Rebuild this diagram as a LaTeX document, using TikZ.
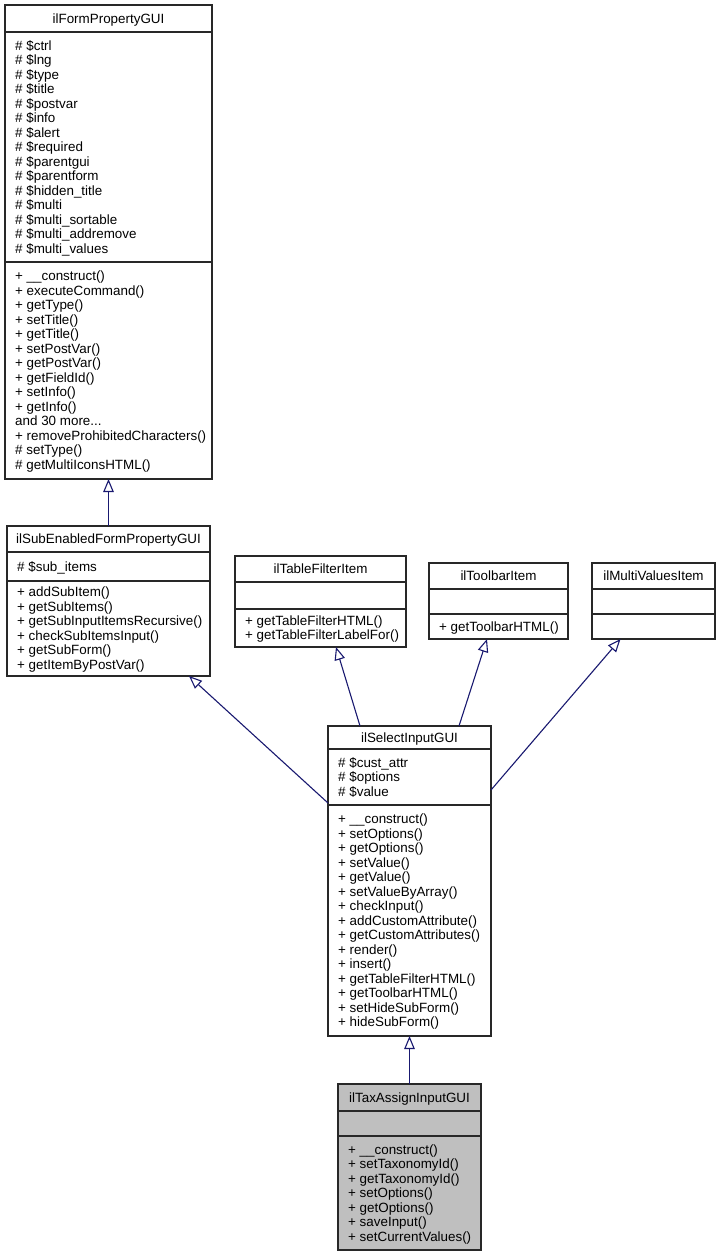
\documentclass[tikz,border=0pt]{standalone}
\usepackage{fontspec}
\setmainfont{Liberation Sans}
\usetikzlibrary{arrows.meta}
\definecolor{edgecol}{RGB}{25,25,112}
\definecolor{taxfill}{RGB}{191,191,191}
\definecolor{boxline}{RGB}{40,40,40}
\newcommand\clsbox[8]{% name, l, t, r, b, y1, y2, fill
  \node[cls, fill=#8, minimum width={#4-#2}, minimum height={#5-#3}] (#1) at (#2,#3) {};
  \draw[sep] (#2,#6) -- (#4,#6);
  \draw[sep] (#2,#7) -- (#4,#7);
}
\newcommand\clstitle[6]{% name, l, r, t, y1, text
  \node[ttl] (#1-title) at ({(#2+#3)/2}, {(#4+#5)/2+4.7}) {#6};
}
\newcommand\clslines[6]{% prefix, x, ytop, ybot, n, list
  \foreach \t [count=\i] in {#6} {
    \node[txt] (#1-\i) at ({#2+10}, {(#3+#4)/2 + (\i-1-(#5-1)/2)*14.5 + 4.7}) {\t};
  }
}
\begin{document}
\begin{tikzpicture}[x=1pt,y=-1pt,
  cls/.style={draw=boxline, line width=1.2pt, inner sep=0pt, outer sep=0pt, anchor=north west},
  sep/.style={draw=boxline, line width=1.2pt},
  txt/.style={inner sep=0pt, font=\fontsize{13.4}{14.5}\selectfont, anchor=base west},
  ttl/.style={inner sep=0pt, font=\fontsize{13.4}{14.5}\selectfont, anchor=base},
  inherit/.style={draw=edgecol, line width=1.1pt, -{Triangle[open, length=13pt, width=10.5pt, line width=1.1pt]}}]
\useasboundingbox (0,0) rectangle (721,1256);
\fill[white] (0,0) rectangle (721,1256);

% ilFormPropertyGUI
\clsbox{form}{5}{5}{212}{479}{32}{262}{white}
\clstitle{form}{5}{212}{5}{32}{ilFormPropertyGUI}
\clslines{forma}{5}{32}{262}{15}{\# \$ctrl,\# \$lng,\# \$type,\# \$title,\# \$postvar,\# \$info,\# \$alert,\# \$required,\# \$parentgui,\# \$parentform,\# \$hidden\_title,\# \$multi,\# \$multi\_sortable,\# \$multi\_addremove,\# \$multi\_values}
\clslines{formm}{5}{262}{479}{14}{+ \_\_construct(),+ executeCommand(),+ getType(),+ setTitle(),+ getTitle(),+ setPostVar(),+ getPostVar(),+ getFieldId(),+ setInfo(),+ getInfo(),and 30 more.{}.{}.,+ removeProhibitedCharacters(),\# setType(),\# getMultiIconsHTML()}

% ilSubEnabledFormPropertyGUI
\clsbox{sub}{7}{526}{210}{676}{552}{581}{white}
\clstitle{sub}{7}{210}{526}{552}{ilSubEnabledFormPropertyGUI}
\clslines{suba}{7}{552}{581}{1}{\# \$sub\_items}
\clslines{subm}{7}{581}{676}{6}{+ addSubItem(),+ getSubItems(),+ getSubInputItemsRecursive(),+ checkSubItemsInput(),+ getSubForm(),+ getItemByPostVar()}

% ilTableFilterItem
\clsbox{table}{235}{556}{406}{647}{582}{609}{white}
\clstitle{table}{235}{406}{556}{582}{ilTableFilterItem}
\clslines{tablem}{235}{609}{647}{2}{+ getTableFilterHTML(),+ getTableFilterLabelFor()}

% ilToolbarItem
\clsbox{toolbar}{429}{563}{568}{639}{589}{614}{white}
\clstitle{toolbar}{429}{568}{563}{589}{ilToolbarItem}
\clslines{toolbarm}{429}{614}{639}{1}{+ getToolbarHTML()}

% ilMultiValuesItem
\clsbox{multi}{592}{563}{715}{639}{589}{614}{white}
\clstitle{multi}{592}{715}{563}{589}{ilMultiValuesItem}

% ilSelectInputGUI
\clsbox{select}{328}{726}{491}{1036}{749}{805}{white}
\clstitle{select}{328}{491}{726}{749}{ilSelectInputGUI}
\clslines{selecta}{328}{749}{805}{3}{\# \$cust\_attr,\# \$options,\# \$value}
\clslines{selectm}{328}{805}{1036}{15}{+ \_\_construct(),+ setOptions(),+ getOptions(),+ setValue(),+ getValue(),+ setValueByArray(),+ checkInput(),+ addCustomAttribute(),+ getCustomAttributes(),+ render(),+ insert(),+ getTableFilterHTML(),+ getToolbarHTML(),+ setHideSubForm(),+ hideSubForm()}

% ilTaxAssignInputGUI
\clsbox{tax}{338}{1084}{481}{1250}{1111}{1136}{taxfill}
\clstitle{tax}{338}{481}{1084}{1111}{ilTaxAssignInputGUI}
\clslines{taxm}{338}{1136}{1250}{7}{+ \_\_construct(),+ setTaxonomyId(),+ getTaxonomyId(),+ setOptions(),+ getOptions(),+ saveInput(),+ setCurrentValues()}

% inheritance
\draw[inherit] (sub.north) -- (form.south);
\draw[inherit] ([xshift=32pt]select.north west) -- ([xshift=15.5pt]table.south);
\draw[inherit] ([xshift=131pt]select.north west) -- ([xshift=-11.5pt]toolbar.south);
\draw[inherit] ([yshift=-64pt]select.north east) -- ([xshift=-33pt]multi.south);
\draw[inherit] ([yshift=-77pt]select.north west) -- ([xshift=-21pt]sub.south east);
\draw[inherit] (tax.north) -- (select.south);
\end{tikzpicture}
\end{document}
